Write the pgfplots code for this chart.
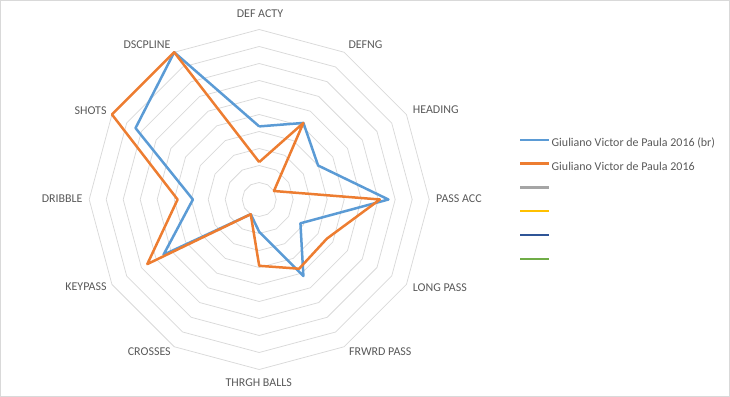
\documentclass[border=0pt]{standalone}
\usepackage{pgfplots}
\pgfplotsset{compat=1.18}
\usepgfplotslibrary{polar}
\usepackage{fontspec}
\setmainfont{Carlito}
\definecolor{txt}{HTML}{595959}
\definecolor{ring}{HTML}{D9D9D9}
\definecolor{frame}{HTML}{D9D9D9}
\definecolor{s1}{HTML}{5B9BD5}
\definecolor{s2}{HTML}{ED7D31}
\definecolor{s3}{HTML}{A5A5A5}
\definecolor{s4}{HTML}{FFC000}
\definecolor{s5}{HTML}{2F5597}
\definecolor{s6}{HTML}{70AD47}
\begin{document}
\begin{tikzpicture}
\useasboundingbox (0bp,0bp) rectangle (730bp,397bp);
\draw[frame, line width=0.75bp] (0.5bp,0.5bp) rectangle (729.5bp,396.5bp);
\begin{polaraxis}[
  at={(259.2bp,197.5bp)}, anchor=center,
  width=340bp, height=340bp, scale only axis,
  hide axis, ymin=0, ymax=10, clip=false,
  legend cell align=left,
  legend image code/.code={\draw[#1, line width=2.5bp] (0bp,3.5bp) -- (29bp,3.5bp);},
  legend style={draw=none, fill=none, inner sep=0pt, outer sep=0pt,
    at={(1.2647,0.686)}, anchor=north west,
    font=\fontsize{12}{14}\selectfont, text=txt,
    nodes={inner sep=1bp, text height=9bp, text depth=3bp},
    row sep=9.8bp, column sep=0bp},
]
\pgfplotsinvokeforeach{1,...,10}{
  \addplot[ring, line width=0.75bp, forget plot] coordinates {
    (90,#1) (60,#1) (30,#1) (0,#1) (-30,#1) (-60,#1) (-90,#1)
    (-120,#1) (-150,#1) (-180,#1) (-210,#1) (-240,#1) (-270,#1)};
}
% order: DEF ACTY, DEFNG, HEADING, PASS ACC, LONG PASS, FRWRD PASS,
% THRGH BALLS, CROSSES, KEYPASS, DRIBBLE, SHOTS, DSCPLINE
\addplot[s1, line width=2.5bp, line join=round] coordinates {
  (90,4.3) (60,5.2) (30,4.0) (0,7.6) (-30,2.8) (-60,5.2) (-90,1.9)
  (-120,1.0) (-150,6.5) (-180,3.9) (-210,8.4) (-240,10.0) (-270,4.3)};
\addlegendentry{Giuliano Victor de Paula 2016 (br)}
\addplot[s2, line width=2.5bp, line join=round] coordinates {
  (90,2.2) (60,5.2) (30,1.0) (0,7.1) (-30,4.6) (-60,4.7) (-90,3.9)
  (-120,1.0) (-150,7.6) (-180,4.8) (-210,10.0) (-240,10.0) (-270,2.2)};
\addlegendentry{Giuliano Victor de Paula 2016}
\addlegendimage{s3}\addlegendentry{}
\addlegendimage{s4}\addlegendentry{}
\addlegendimage{s5}\addlegendentry{}
\addlegendimage{s6}\addlegendentry{}
\end{polaraxis}
\begin{scope}[every node/.style={font=\fontsize{12}{14}\selectfont, text=txt, inner sep=0pt}]
\node[anchor=base] at (260bp,379.1bp) {DEF ACTY};
\node[anchor=base] at (365.5bp,348.1bp) {DEFNG};
\node[anchor=base west] at (412.7bp,283.1bp) {HEADING};
\node[anchor=base west] at (436bp,194.1bp) {PASS ACC};
\node[anchor=base west] at (412.7bp,105.8bp) {LONG PASS};
\node[anchor=base] at (380.3bp,41.4bp) {FRWRD PASS};
\node[anchor=base] at (258.7bp,10.4bp) {THRGH BALLS};
\node[anchor=base] at (149.3bp,41.4bp) {CROSSES};
\node[anchor=base east] at (106.7bp,106.4bp) {KEYPASS};
\node[anchor=base east] at (82.7bp,194.1bp) {DRIBBLE};
\node[anchor=base east] at (106.7bp,282.4bp) {SHOTS};
\node[anchor=base] at (147bp,348.1bp) {DSCPLINE};
\end{scope}
\end{tikzpicture}
\end{document}
